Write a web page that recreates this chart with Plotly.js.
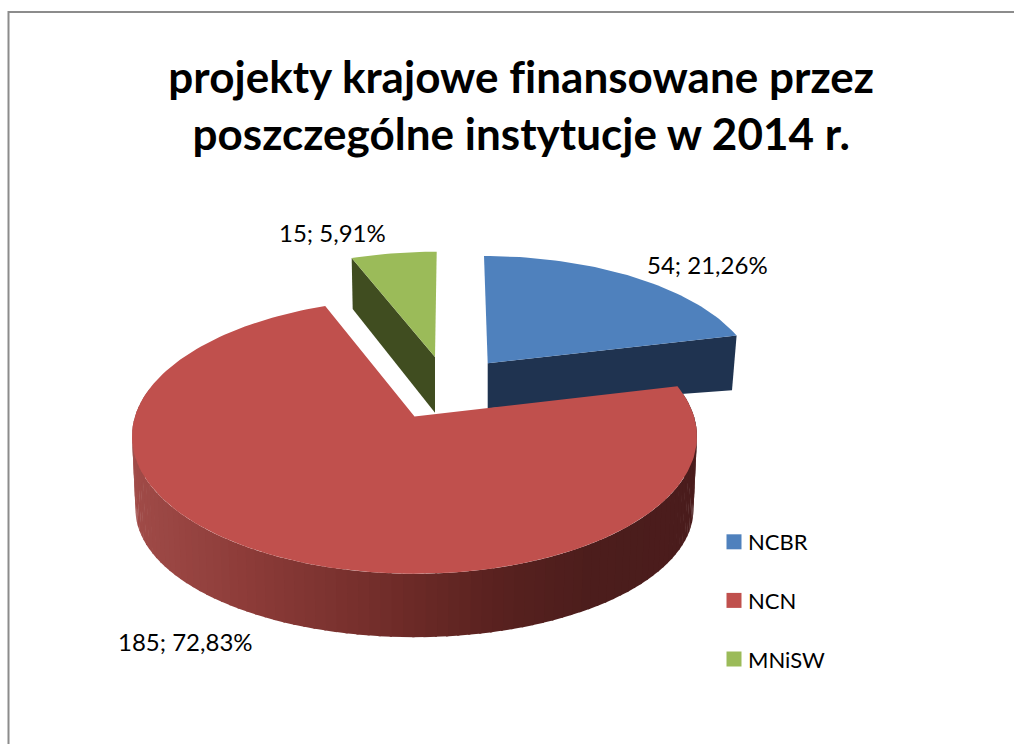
<!DOCTYPE html>
<html><head><meta charset="utf-8">
<script src="https://cdn.plot.ly/plotly-3.0.1.min.js"></script>
<style>html,body{margin:0;padding:0;background:#fff;overflow:hidden} .gtitle,.gtitle tspan{letter-spacing:0.02px;font-feature-settings:"liga" 0,"clig" 0;font-variant-ligatures:none}</style>
</head><body><div id="chart" style="width:1014px;height:744px"></div>
<script>
const categories = ['NCBR', 'NCN', 'MNiSW'];
const values = [54, 185, 15];
const topColors = ['#4f81bd', '#c0504d', '#9bbb59'];
const wallColors = ['#1f3350', null, '#404d20'];
const titleLines = ['projekty krajowe finansowane przez', 'poszczególne instytucje w 2014 r.'];

const FONT = 'Lato, Carlito, Calibri, sans-serif';
const total = values.reduce((a, b) => a + b, 0);
const K = 0.145; // perspective of the tilted disc

// Where each exploded slice sits on the page (page pixels via pixel-ranged axes)
const geom = [
  {cx: 487.7, cy: 363.3, A: 265.5, B: 122.9, lean: -3.7, tipDrop: 45,   rimDrop: 54.7, rimIn: 4.6},
  {cx: 414.5, cy: 416.5, A: 279.5, B: 134.5, lean: 0,
   bottom: {cx: 414.5, cy: 491, A: 276, B: 125}},
  {cx: 435,   cy: 357,   A: 265.8, B: 120.6, lean: 1.7,  tipDrop: 55.7, rimDrop: 51,   rimIn: -1}
];

function project(g, deg) {
  const t = deg * Math.PI / 180, u = Math.sin(t), v = Math.cos(t), p = 1 / (1 + K * v);
  return [g.cx + g.A * u * p + (g.lean || 0) * v, g.cy - g.B * v * p];
}
let acc = 0;
const spans = values.map(v => { const s = acc; acc += v / total * 360; return [s, acc]; });

function poly(pts, color) {
  return {type: 'scatter', mode: 'lines', x: pts.map(p => p[0]), y: pts.map(p => p[1]),
    fill: 'toself', fillcolor: color, line: {width: 0, color: color},
    hoverinfo: 'skip', showlegend: false};
}
function sector(g, a, b) {
  const pts = [[g.cx, g.cy]];
  const n = Math.ceil((b - a) / 1.5);
  for (let i = 0; i <= n; i++) pts.push(project(g, a + (b - a) * i / n));
  pts.push([g.cx, g.cy]);
  return pts;
}
// horizontal shading of the curved wall
const shadeStops = [[131,[160,75,72]],[250,[140,59,56]],[400,[110,43,40]],[500,[88,33,31]],[590,[76,29,28]],[700,[74,28,28]]];
function shade(x) {
  for (let i = 1; i < shadeStops.length; i++) {
    const [x0, c0] = shadeStops[i - 1], [x1, c1] = shadeStops[i];
    if (x <= x1) {
      const f = Math.max(0, (x - x0) / (x1 - x0));
      return 'rgb(' + c0.map((c, j) => Math.round(c + (c1[j] - c) * f)).join(',') + ')';
    }
  }
  return 'rgb(74,28,28)';
}

const traces = [];
// back slices first: flat radial walls, then tops
[2, 0].forEach(i => {
  const g = geom[i];
  const rimAngle = i === 0 ? spans[0][1] : spans[2][0];
  const rim = project(g, rimAngle);
  traces.push(poly([[g.cx, g.cy], rim, [rim[0] - g.rimIn, rim[1] + g.rimDrop], [g.cx, g.cy + g.tipDrop], [g.cx, g.cy]], wallColors[i]));
  traces.push(poly(sector(g, spans[i][0], spans[i][1]), topColors[i]));
});
// large slice: curved wall strips, then top
const r = geom[1];
const bot = Object.assign({lean: 0}, r.bottom);
for (let d = 80; d < 282; d += 2) {
  const a = project(r, d), b = project(r, d + 2.4), c = project(bot, d + 2.4), e = project(bot, d);
  traces.push(poly([a, b, c, e, a], shade((a[0] + b[0]) / 2)));
}
traces.push(poly(sector(r, spans[1][0], spans[1][1]), topColors[1]));
// legend entries
categories.forEach((name, i) => traces.push({type: 'scatter', mode: 'markers', x: [null], y: [null], name: name,
  legendgroup: name, marker: {symbol: 'square', size: 15, color: topColors[i]}, hoverinfo: 'skip'}));

const label = i => values[i] + '; ' + (values[i] / total * 100).toFixed(2).replace('.', ',') + '%';
const labelAt = [[707, 264], [185, 641], [332, 232]];
const annotations = values.map((_, i) => ({x: labelAt[i][0], y: labelAt[i][1], text: label(i), showarrow: false,
  xanchor: 'center', yanchor: 'middle', font: {family: FONT, size: 24, color: '#000'}}));

const layout = {
  width: 1014, height: 744, margin: {l: 0, r: 0, t: 0, b: 0}, paper_bgcolor: '#fff', plot_bgcolor: '#fff',
  title: {text: titleLines.join('<br>'), x: 0.514, xanchor: 'center', y: 0.875, yanchor: 'middle', font: {family: FONT, size: 44, color: '#000', weight: 700}},
  xaxis: {range: [0, 1014], visible: false, fixedrange: true},
  yaxis: {range: [744, 0], visible: false, fixedrange: true},
  shapes: [{type: 'rect', xref: 'x', yref: 'y', x0: 8.5, y0: 12, x1: 1030, y1: 770, line: {color: '#8c8c8c', width: 2}, layer: 'below'}],
  annotations: annotations,
  showlegend: true,
  legend: {x: 708 / 1014, y: 1 - 521 / 744, xanchor: 'left', yanchor: 'top', bgcolor: 'rgba(0,0,0,0)', tracegroupgap: 27,
    font: {family: FONT, size: 22, color: '#000'}, itemclick: false, itemdoubleclick: false}
};
Plotly.newPlot('chart', traces, layout, {displayModeBar: false, staticPlot: true}).then(gd => {
  // the swatches sit closer to their text than the library's default
  gd.querySelectorAll('.legend .legendpoints').forEach(n => n.setAttribute('transform', 'translate(6,0)'));
});
</script></body></html>
